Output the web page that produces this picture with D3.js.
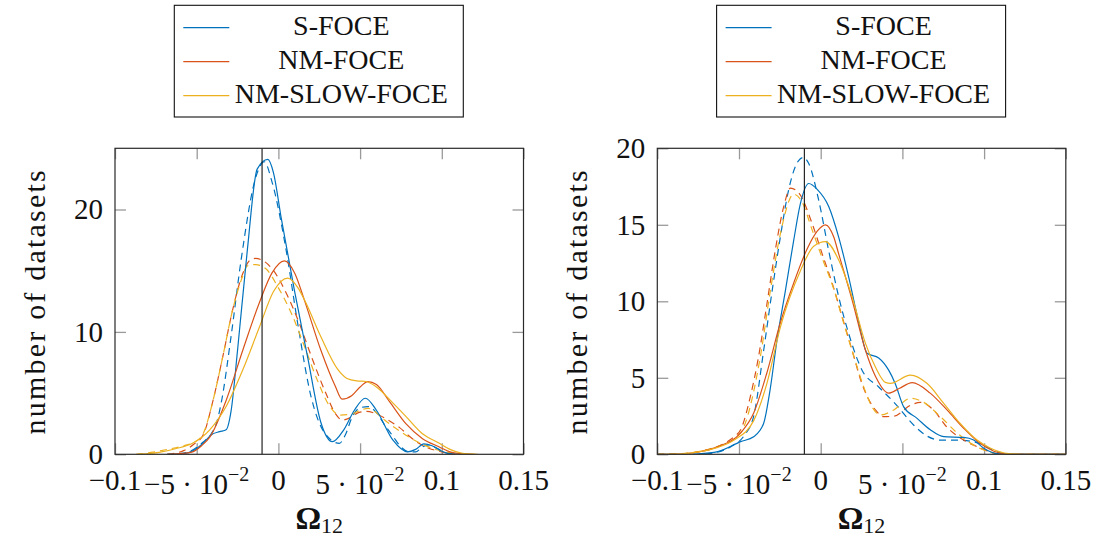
<!DOCTYPE html>
<html>
<head>
<meta charset="utf-8">
<script src="https://cdn.jsdelivr.net/npm/d3@7"></script>
<style>
  html, body { margin: 0; padding: 0; background: #fff; }
  svg { display: block; }
  svg text { font-family: "Liberation Serif", "DejaVu Serif", serif; }
</style>
</head>
<body>
<svg id="chart" width="1099" height="538"></svg>
<script>
// ---------- data ----------
const seriesNames = ["S-FOCE", "NM-FOCE", "NM-SLOW-FOCE"];

const xTicks = [-0.1, -0.05, 0, 0.05, 0.1, 0.15];
const xTickLabels = ["\u22120.1", "\u22125 \u00b7 10^\u22122", "0", "5 \u00b7 10^\u22122", "0.1", "0.15"];
const leftYTicks = [0, 10, 20];
const rightYTicks = [0, 5, 10, 15, 20];
const leftYMax = 25;
const rightYMax = 20;
const referenceOmega = -0.01;

// left panel: kernel density curves, [Ω12, number of datasets]
const leftSFoceSolid = [[-0.068,0],[-0.058,0.05],[-0.052,0.3],[-0.046,0.9],[-0.041,1.6],[-0.036,1.85],[-0.032,2.0],[-0.029,3.5],[-0.025,8.5],[-0.019,16.7],[-0.013,23.3],[-0.0065,24.1],[-0.003,23.0],[0.0016,19.4],[0.0098,13.4],[0.0178,8.0],[0.026,2.6],[0.033,1.03],[0.04,2.0],[0.0465,3.6],[0.0532,4.58],[0.06,3.6],[0.07,1.17],[0.079,0.2],[0.084,0.4],[0.089,0.85],[0.094,0.7],[0.1,0.25],[0.105,0.05],[0.112,0]];
const leftSFoceDashed = [[-0.068,0],[-0.058,0.1],[-0.052,0.4],[-0.046,1.0],[-0.041,1.7],[-0.038,2.5],[-0.035,4.2],[-0.029,9.6],[-0.0228,15.9],[-0.0137,22.7],[-0.0086,23.9],[-0.004,22.3],[0.0047,16.7],[0.0118,10.7],[0.02,4.7],[0.028,1.8],[0.0373,0.9],[0.041,1.6],[0.045,3.0],[0.05,3.8],[0.055,3.9],[0.06,3.4],[0.065,2.4],[0.07,1.5],[0.075,0.6],[0.08,0.2],[0.084,0.2],[0.088,0.6],[0.092,0.76],[0.097,0.5],[0.102,0.15],[0.108,0]];
const leftNmFoceSolid = [[-0.068,0],[-0.0606,0.05],[-0.0524,0.2],[-0.047,0.7],[-0.042,1.4],[-0.032,4.4],[-0.0218,8.5],[-0.0116,12.4],[-0.004,14.8],[0.0037,15.8],[0.01,14.8],[0.0159,12.6],[0.026,8.5],[0.0347,5.6],[0.039,4.5],[0.045,4.8],[0.05,5.5],[0.0547,5.94],[0.06,5.7],[0.068,4.3],[0.078,2.5],[0.088,1.3],[0.0985,0.6],[0.105,0.2],[0.112,0.05],[0.118,0]];
const leftNmFoceDashed = [[-0.068,0],[-0.058,0.3],[-0.052,0.8],[-0.046,1.6],[-0.04,4.4],[-0.034,8.0],[-0.028,11.8],[-0.022,14.7],[-0.017,15.9],[-0.014,16.0],[-0.0035,15.1],[0.0047,13.2],[0.0128,10.7],[0.021,7.7],[0.029,5.0],[0.035,3.3],[0.039,2.8],[0.044,3.0],[0.049,3.4],[0.054,3.5],[0.06,3.3],[0.067,2.8],[0.074,2.2],[0.08,1.5],[0.086,0.9],[0.092,0.5],[0.1,0.2],[0.108,0]];
const leftNmSlowSolid = [[-0.087,0],[-0.08,0.05],[-0.073,0.15],[-0.063,0.45],[-0.0526,0.9],[-0.042,2.0],[-0.032,3.9],[-0.0218,6.9],[-0.0116,10.4],[-0.003,13.3],[0.0057,14.4],[0.012,13.6],[0.016,12.6],[0.026,9.6],[0.036,7.0],[0.042,6.2],[0.048,6.0],[0.0537,5.95],[0.06,5.5],[0.07,4.2],[0.078,3.1],[0.088,1.7],[0.0985,0.9],[0.105,0.4],[0.112,0.1],[0.122,0]];
const leftNmSlowDashed = [[-0.087,0],[-0.078,0.15],[-0.068,0.4],[-0.058,0.7],[-0.05,1.1],[-0.046,1.7],[-0.04,4.4],[-0.034,8.0],[-0.028,11.8],[-0.022,14.5],[-0.019,15.4],[-0.014,15.5],[-0.008,15.2],[0.0,13.6],[0.008,11.5],[0.016,8.8],[0.024,6.0],[0.031,4.0],[0.038,3.2],[0.045,3.3],[0.05,3.6],[0.055,3.75],[0.06,3.4],[0.065,2.8],[0.072,2.1],[0.08,1.4],[0.087,0.9],[0.094,0.5],[0.102,0.2],[0.112,0.05],[0.12,0]];

// right panel
const rightSFoceSolid = [[-0.1,0],[-0.08,0],[-0.076,0.02],[-0.063,0.17],[-0.049,0.83],[-0.041,1.15],[-0.035,2.0],[-0.031,4.2],[-0.0267,7.5],[-0.0216,10.7],[-0.0165,14.0],[-0.0124,16.4],[-0.0073,17.7],[-0.002,17.3],[0.0049,16.2],[0.011,14.2],[0.0171,11.6],[0.0233,8.6],[0.0284,6.6],[0.0355,6.3],[0.0416,5.5],[0.0457,4.6],[0.0508,3.1],[0.059,2.35],[0.0671,1.6],[0.0753,1.15],[0.0875,1.1],[0.0936,0.93],[0.0998,0.4],[0.108,0.05],[0.12,0],[0.15,0]];
const rightSFoceDashed = [[-0.1,0],[-0.075,0],[-0.065,0.1],[-0.055,0.5],[-0.047,1.2],[-0.041,2.5],[-0.0349,6.8],[-0.0297,10.7],[-0.0247,14.2],[-0.0196,17.3],[-0.0135,19.2],[-0.0105,19.4],[-0.0073,19.0],[-0.0012,16.6],[0.0049,13.3],[0.011,10.3],[0.0171,7.9],[0.0253,5.5],[0.0355,4.4],[0.0457,3.3],[0.057,1.9],[0.065,1.2],[0.073,0.93],[0.0835,0.93],[0.0977,0.7],[0.105,0.3],[0.112,0.05],[0.12,0],[0.15,0]];
const rightNmFoceSolid = [[-0.1,0],[-0.086,0.02],[-0.075,0.15],[-0.063,0.5],[-0.049,1.4],[-0.041,2.7],[-0.033,5.3],[-0.0247,8.6],[-0.0165,11.2],[-0.0084,13.4],[-0.002,14.6],[0.0029,15.0],[0.008,14.2],[0.011,13.1],[0.0192,10.1],[0.0274,6.8],[0.0335,5.1],[0.0416,4.0],[0.048,4.3],[0.056,4.68],[0.067,4.0],[0.0773,2.9],[0.0875,1.7],[0.0977,0.7],[0.106,0.2],[0.115,0],[0.15,0]];
const rightNmFoceDashed = [[-0.1,0],[-0.085,0.03],[-0.074,0.17],[-0.061,0.6],[-0.053,1.15],[-0.049,1.6],[-0.043,3.8],[-0.038,6.4],[-0.0328,9.9],[-0.0277,13.4],[-0.0226,16.2],[-0.0185,17.4],[-0.0135,17.1],[-0.0053,15.1],[0.0009,13.1],[0.007,11.2],[0.0131,9.0],[0.0192,6.8],[0.0253,4.6],[0.0335,2.9],[0.0386,2.46],[0.045,2.5],[0.0549,3.2],[0.061,3.4],[0.069,2.9],[0.077,1.8],[0.0875,0.93],[0.098,0.4],[0.11,0],[0.15,0]];
const rightNmSlowSolid = [[-0.1,0],[-0.085,0.03],[-0.074,0.17],[-0.063,0.45],[-0.053,0.94],[-0.041,2.2],[-0.033,4.6],[-0.0247,8.3],[-0.0124,12.0],[-0.0043,13.6],[0.0029,13.9],[0.011,12.7],[0.0192,10.3],[0.0274,7.25],[0.0335,5.7],[0.0396,4.7],[0.0427,4.64],[0.0549,5.18],[0.065,4.64],[0.0753,3.33],[0.0855,2.0],[0.0957,0.93],[0.104,0.4],[0.115,0.05],[0.125,0],[0.15,0]];
const rightNmSlowDashed = [[-0.1,0],[-0.085,0.05],[-0.074,0.2],[-0.062,0.55],[-0.053,1.0],[-0.047,1.8],[-0.0369,6.4],[-0.0308,10.7],[-0.0247,14.4],[-0.0165,17.0],[-0.012,16.6],[-0.005,14.6],[0.001,12.8],[0.008,10.8],[0.014,8.6],[0.02,6.5],[0.026,4.5],[0.032,3.0],[0.0365,2.57],[0.0447,2.9],[0.0549,3.66],[0.063,3.4],[0.0733,2.46],[0.0835,1.4],[0.0936,0.6],[0.102,0.2],[0.112,0],[0.15,0]];

// ---------- styling / layout ----------
const seriesColors = ["#0072BD", "#D95319", "#EDB120"];
const serif = "Liberation Serif, DejaVu Serif, serif";
const fontMain = 29;

const panels = [
  { left: 115, right: 523.5, yMax: leftYMax, yTicks: leftYTicks,
    solid: [leftSFoceSolid, leftNmFoceSolid, leftNmSlowSolid],
    dashed: [leftSFoceDashed, leftNmFoceDashed, leftNmSlowDashed] },
  { left: 657.3, right: 1065.8, yMax: rightYMax, yTicks: rightYTicks,
    solid: [rightSFoceSolid, rightNmFoceSolid, rightNmSlowSolid],
    dashed: [rightSFoceDashed, rightNmFoceDashed, rightNmSlowDashed] }
];
const plotTop = 148.3, plotBottom = 454.3;

const svg = d3.select("#chart").attr("font-family", serif);

panels.forEach((p, pi) => {
  const g = svg.append("g").attr("font-family", serif);
  const x = d3.scaleLinear().domain([xTicks[0], xTicks[xTicks.length - 1]]).range([p.left, p.right]);
  const y = d3.scaleLinear().domain([0, p.yMax]).range([plotBottom, plotTop]);
  const cx = (p.left + p.right) / 2;

  const clipId = "clip" + pi;
  svg.append("defs").append("clipPath").attr("id", clipId)
    .append("rect").attr("x", p.left).attr("y", plotTop)
    .attr("width", p.right - p.left).attr("height", plotBottom - plotTop);

  // inward tick marks on all four sides
  const tickLen = 11;
  const tickStyle = sel => {
    sel.select(".domain").remove();
    sel.selectAll(".tick line").attr("stroke", "#9a9a9a").attr("stroke-width", 1.3);
    sel.selectAll(".tick text").remove();
  };
  g.append("g").attr("transform", `translate(0,${plotBottom})`)
    .call(d3.axisBottom(x).tickValues(xTicks).tickSize(-tickLen).tickFormat("")).call(tickStyle);
  g.append("g").attr("transform", `translate(0,${plotTop})`)
    .call(d3.axisTop(x).tickValues(xTicks).tickSize(-tickLen).tickFormat("")).call(tickStyle);
  g.append("g").attr("transform", `translate(${p.left},0)`)
    .call(d3.axisLeft(y).tickValues(p.yTicks).tickSize(-tickLen).tickFormat("")).call(tickStyle);
  g.append("g").attr("transform", `translate(${p.right},0)`)
    .call(d3.axisRight(y).tickValues(p.yTicks).tickSize(-tickLen).tickFormat("")).call(tickStyle);

  // curves
  const line = d3.line().x(d => x(d[0])).y(d => y(d[1])).curve(d3.curveMonotoneX);
  const curves = g.append("g").attr("clip-path", `url(#${clipId})`);
  p.dashed.forEach((s, i) => {
    curves.append("path").datum(s).attr("d", line)
      .attr("fill", "none").attr("stroke", seriesColors[i]).attr("stroke-width", 1.2)
      .attr("stroke-dasharray", "7,5");
  });
  p.solid.forEach((s, i) => {
    curves.append("path").datum(s).attr("d", line)
      .attr("fill", "none").attr("stroke", seriesColors[i]).attr("stroke-width", 1.2);
  });

  // reference line
  g.append("line").attr("x1", x(referenceOmega)).attr("x2", x(referenceOmega))
    .attr("y1", plotTop).attr("y2", plotBottom).attr("stroke", "#111").attr("stroke-width", 1.1);

  // frame
  g.append("rect").attr("x", p.left).attr("y", plotTop)
    .attr("width", p.right - p.left).attr("height", plotBottom - plotTop)
    .attr("fill", "none").attr("stroke", "#2a2a2a").attr("stroke-width", 1.2);

  // y tick labels
  const yl = g.append("g").attr("transform", `translate(${p.left},0)`)
    .call(d3.axisLeft(y).tickValues(p.yTicks).tickSize(0).tickPadding(12));
  yl.attr("font-family", serif).attr("font-size", fontMain);
  yl.select(".domain").remove();
  yl.selectAll(".tick text").attr("font-size", fontMain).attr("fill", "#111")
    .attr("font-family", serif);

  // x tick labels (with superscript exponents)
  xTicks.forEach((v, i) => {
    const parts = xTickLabels[i].split("^");
    const hasExp = parts.length > 1;
    const t = g.append("text").attr("x", x(v)).attr("y", hasExp ? 493.5 : 489.5)
      .attr("text-anchor", "middle").attr("font-family", serif)
      .attr("font-size", fontMain).attr("fill", "#111");
    t.append("tspan").text(parts[0]);
    if (hasExp) t.append("tspan").attr("font-size", 20).attr("dy", -12.5).text(parts[1]);
  });

  // axis titles
  const xt = g.append("text").attr("x", cx).attr("y", 529).attr("text-anchor", "middle")
    .attr("font-family", serif).attr("fill", "#111");
  xt.append("tspan").attr("font-size", 32).attr("font-weight", "bold").text("\u03a9");
  xt.append("tspan").attr("font-size", 22).attr("dy", 4).text("12");

  g.append("text").attr("transform", `translate(${p.left - 70},${(plotTop + plotBottom) / 2}) rotate(-90)`)
    .attr("text-anchor", "middle").attr("font-family", serif)
    .attr("font-size", 30).attr("letter-spacing", 2.2)
    .attr("fill", "#111").text("number of datasets");

  // legend
  const lx = p.left + 59.3;
  const leg = g.append("g");
  leg.append("rect").attr("x", lx).attr("y", 5.3).attr("width", 289).attr("height", 111.7)
    .attr("fill", "#fff").attr("stroke", "#111").attr("stroke-width", 1.1);
  seriesNames.forEach((name, i) => {
    const ly = 27.7 + i * 34;
    leg.append("line").attr("x1", lx + 9).attr("x2", lx + 55).attr("y1", ly).attr("y2", ly)
      .attr("stroke", seriesColors[i]).attr("stroke-width", 1.2);
    leg.append("text").attr("x", lx + 167).attr("y", ly + 7.5).attr("text-anchor", "middle")
      .attr("font-family", serif).attr("font-size", 28).attr("fill", "#111").text(name);
  });
});
</script>
</body>
</html>
